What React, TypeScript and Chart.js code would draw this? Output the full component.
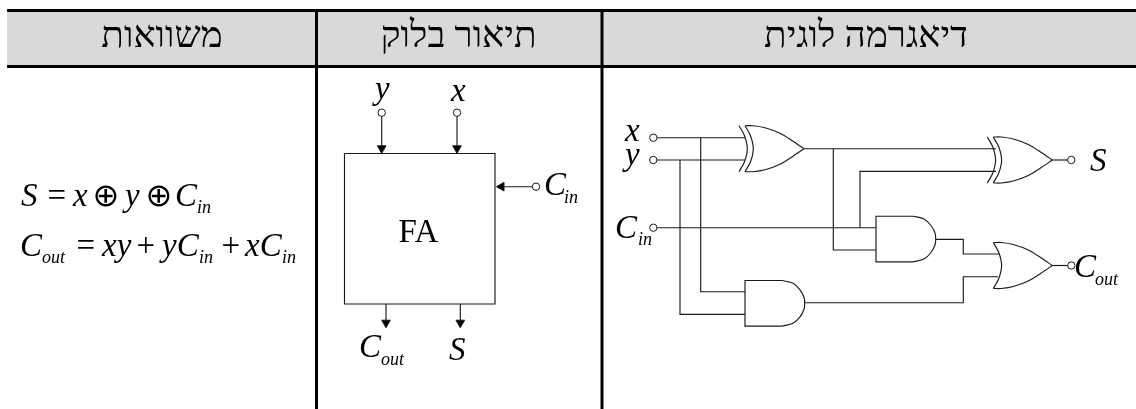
import React, { useEffect, useRef } from "react";
import { Chart, registerables } from "chart.js";

Chart.register(...registerables);

type P = [number, number];
const INK = "#1a1a1a";
const SERIF = '"Liberation Serif"';

// Table rules and header band
const headerBand: P[] = [[7, 12], [1136, 12]];
const tableRules: P[][] = [
  [[7, 10.5], [1136, 10.5]],
  [[7, 66.5], [1136, 66.5]],
  [[316.5, 10], [316.5, 409]],
  [[602, 10], [602, 409]],
];

// Block description
const blockBox: P[] = [[344.5, 153.5], [495, 153.5], [495, 304], [344.5, 304], [344.5, 153.5]];
const blockWires: P[][] = [
  [[381.7, 113], [381.7, 150]],
  [[457, 113], [457, 150]],
  [[536, 186.7], [500, 186.7]],
  [[386, 304], [386, 322]],
  [[460.3, 304], [460.3, 322]],
];
const downArrows: P[] = [[381.7, 148.3], [457, 148.3], [386, 322.7], [460.3, 322.7]];
const leftArrows: P[] = [[501.5, 186.7]];
const blockTerminals: P[] = [[381.7, 112.7], [457, 112.7], [536, 186.7]];

// Logic diagram wires
const logicWires: P[][] = [
  [[653.3, 137.7], [745, 137.7]],
  [[653.3, 160], [745, 160]],
  [[653.3, 227.7], [876, 227.7]],
  [[700.7, 137.7], [700.7, 291.7], [745, 291.7]],
  [[680, 160], [680, 314.3], [745, 314.3]],
  [[804, 148.7], [996, 148.7]],
  [[833.3, 148.7], [833.3, 250], [876, 250]],
  [[860, 227.7], [860, 171.3], [996, 171.3]],
  [[1052.3, 160], [1071.3, 160]],
  [[935.7, 239.3], [963.3, 239.3], [963.3, 254], [999, 254]],
  [[804, 302.7], [963.3, 302.7], [963.3, 276.7], [998, 276.7]],
  [[1052.3, 265.5], [1071.3, 265.5]],
];
const logicTerminals: P[] = [[653.3, 137.7], [653.3, 160], [653.3, 227.7], [1071.3, 160], [1071.3, 265.5]];

// Gate outlines, relative to each gate's left edge and centre line
const orTop: P[] = [[0, -23], [8, -23], [20, -21], [35, -15.5], [48, -7.5], [59, 0]];
const orBottom: P[] = [[0, 23], [8, 23], [20, 21], [35, 15.5], [48, 7.5], [59, 0]];
const orBack: P[] = [[0, -23], [5.5, -13], [8.3, 0], [5.5, 13], [0, 23]];
const xorExtra: P[] = [[-6, -23], [-0.5, -13], [2.3, 0], [-0.5, 13], [-6, 23]];
const andFrame: P[] = [[37, -22.8], [0, -22.8], [0, 22.8], [37, 22.8]];
const andArc: P[] = [[37, -22.8], [48, -20], [55, -13.5], [59, -6], [59.7, 0], [59, 6], [55, 13.5], [48, 20], [37, 22.8]];

const xorGates: P[] = [[745, 148.7], [993.3, 160]];
const orGates: P[] = [[993.3, 265.5]];
const andGates: P[] = [[876, 239], [745, 303.3]];

// Text: [text, x, baseline]
const headerLabels: [string, number, number][] = [
  ["משוואות", 162, 46.5],
  ["תיאור בלוק", 458.7, 46.5],
  ["דיאגרמה לוגית", 866, 46.5],
];
const mathLabels: [string, number, number][] = [
  ["S", 21, 206], ["x", 73, 206], ["y", 125, 206], ["C", 175, 206],
  ["C", 20, 256], ["xy", 102, 256], ["yC", 162, 256], ["xC", 245, 256],
  ["y", 375, 99], ["x", 451, 101], ["C", 544, 195], ["C", 359, 357], ["S", 449, 360],
  ["x", 625, 141], ["y", 625, 165], ["C", 615, 238], ["S", 1090, 171], ["C", 1074, 277],
];
const plainLabels: [string, number, number][] = [
  ["=", 47.5, 206], ["=", 76.5, 256], ["+", 136.5, 256], ["+", 221.5, 256], ["FA", 398.5, 242],
];
const symbolLabels: [string, number, number][] = [["⊕", 92.5, 206], ["⊕", 145.5, 206]];
const subLabels: [string, number, number][] = [
  ["in", 197, 213], ["out", 42, 263], ["in", 199, 263], ["in", 282, 263],
  ["in", 564, 203], ["out", 381, 365], ["in", 638, 245], ["out", 1095, 285],
];

const pts = (list: P[], o: P = [0, 0]) => list.map(([x, y]) => ({ x: x + o[0], y: y + o[1] }));

const line = (list: P[], width = 1.15, color = INK, tension = 0) => ({
  type: "line" as const,
  data: pts(list),
  borderColor: color,
  borderWidth: width,
  pointRadius: 0,
  tension,
  fill: false,
  order: 1,
});

const curve = (list: P[], origin: P) => ({ ...line(list, 1.15, INK, 0.3), data: pts(list, origin) });

const markers = (list: P[], style: string, radius: number, fillColor: string, rotation = 0) => ({
  type: "scatter" as const,
  data: pts(list),
  showLine: false,
  pointStyle: style,
  pointRadius: radius,
  pointRotation: rotation,
  pointBackgroundColor: fillColor,
  pointBorderColor: INK,
  pointBorderWidth: 1,
  order: 0,
});

const textPlugin = {
  id: "diagramText",
  afterDatasetsDraw(chart: any) {
    const { ctx, scales } = chart;
    const draw = (items: [string, number, number][], font: string, align: CanvasTextAlign) => {
      ctx.save();
      ctx.font = font;
      ctx.fillStyle = "#000";
      ctx.textAlign = align;
      ctx.textBaseline = "alphabetic";
      for (const [t, x, y] of items) ctx.fillText(t, scales.x.getPixelForValue(x), scales.y.getPixelForValue(y));
      ctx.restore();
    };
    draw(headerLabels, `37px ${SERIF}`, "center");
    draw(mathLabels, `italic 33px ${SERIF}`, "left");
    draw(plainLabels, `33px ${SERIF}`, "left");
    draw(symbolLabels, `32px "DejaVu Sans"`, "left");
    draw(subLabels, `italic 18px ${SERIF}`, "left");
  },
};

export default function App() {
  const ref = useRef<HTMLCanvasElement>(null);
  useEffect(() => {
    const datasets: any[] = [
      {
        type: "line",
        data: pts(headerBand),
        borderWidth: 0,
        borderColor: "transparent",
        pointRadius: 0,
        backgroundColor: "#d9d9d9",
        fill: { target: { value: 65 } },
        order: 2,
      },
      ...tableRules.map((r) => line(r, 3, "#000")),
      line(blockBox),
      ...blockWires.map((w) => line(w)),
      ...logicWires.map((w) => line(w)),
      ...xorGates.flatMap((g) => [curve(orTop, g), curve(orBottom, g), curve(orBack, g), curve(xorExtra, g)]),
      ...orGates.flatMap((g) => [curve(orTop, g), curve(orBottom, g), curve(orBack, g)]),
      ...andGates.flatMap((g) => [{ ...line(andFrame), data: pts(andFrame, g) }, curve(andArc, g)]),
      markers(downArrows, "triangle", 5, "#000", 180),
      markers(leftArrows, "triangle", 5, "#000", 270),
      markers(blockTerminals, "circle", 3.7, "#fff"),
      markers(logicTerminals, "circle", 3.7, "#fff"),
    ];
    const chart = new Chart(ref.current!, {
      type: "scatter",
      data: { datasets },
      plugins: [textPlugin],
      options: {
        animation: false,
        responsive: false,
        layout: { padding: 0, autoPadding: false },
        plugins: { legend: { display: false }, tooltip: { enabled: false } },
        scales: {
          x: { type: "linear", min: 0, max: 1136, display: false },
          y: { type: "linear", min: 0, max: 409, reverse: true, display: false },
        },
      },
    } as any);
    return () => chart.destroy();
  }, []);
  return (
    <div style={{ position: "fixed", left: 0, top: 0, width: 1136, height: 409, background: "#fff" }}>
      <canvas ref={ref} width={1136} height={409} style={{ display: "block" }} />
    </div>
  );
}
